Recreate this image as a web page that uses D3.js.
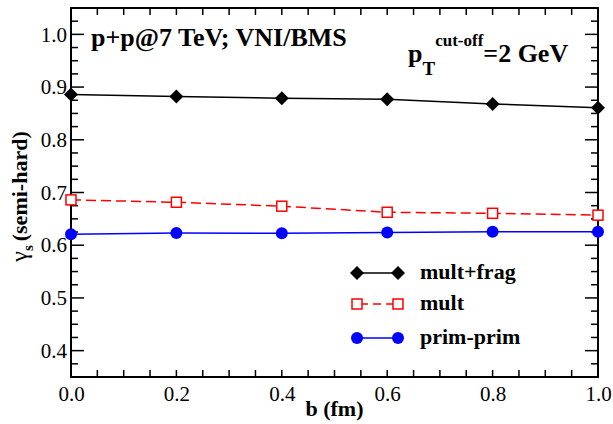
<!DOCTYPE html>
<html><head><meta charset="utf-8">
<script src="https://cdn.jsdelivr.net/npm/d3@7"></script>
<style>body{margin:0;background:#fff}svg{display:block}text{font-family:"Liberation Serif","Times New Roman",serif}</style>
</head><body>
<svg id="c" width="613" height="424"></svg>
<script>
const bValues = [0.0, 0.2, 0.4, 0.6, 0.8, 1.0];
const multFrag = [0.886, 0.882, 0.879, 0.877, 0.868, 0.861];
const mult = [0.686, 0.6815, 0.674, 0.6625, 0.6605, 0.657];
const primPrim = [0.621, 0.623, 0.6225, 0.624, 0.6257, 0.6257];
const xTicks = [0.0, 0.2, 0.4, 0.6, 0.8, 1.0];
const yTicks = [0.4, 0.5, 0.6, 0.7, 0.8, 0.9, 1.0];
const seriesNames = ["mult+frag", "mult", "prim-prim"];

const svg = d3.select("#c");
const L = 71, R = 598, T = 8, B = 377;
const x = d3.scaleLinear().domain([0, 1]).range([L, R]);
const y = d3.scaleLinear().domain([0.35, 1.05]).range([B, T]);

// minor & major ticks (inward, mirrored)
const g = svg.append("g");
const yMinor = d3.range(0.375, 1.05, 0.025).map(v => +v.toFixed(3));
yMinor.forEach(v => {
  const major = Math.abs(Math.round(v * 10) / 10 - v) < 1e-6;
  const len = major ? 13 : 7;
  g.append("line").attr("x1", L).attr("x2", L + len).attr("y1", y(v)).attr("y2", y(v)).attr("stroke", "#000").attr("stroke-width", 1.5);
  g.append("line").attr("x1", R).attr("x2", R - len).attr("y1", y(v)).attr("y2", y(v)).attr("stroke", "#000").attr("stroke-width", 1.5);
});
const xMinor = d3.range(0.05, 1.0, 0.05).map(v => +v.toFixed(3));
xMinor.forEach(v => {
  g.append("line").attr("x1", x(v)).attr("x2", x(v)).attr("y1", B).attr("y2", B - 7).attr("stroke", "#000").attr("stroke-width", 1.5);
  g.append("line").attr("x1", x(v)).attr("x2", x(v)).attr("y1", T).attr("y2", T + 7).attr("stroke", "#000").attr("stroke-width", 1.5);
});

// axes labels via d3 axes (no tick lines)
const xAxis = svg.append("g").attr("transform", `translate(0,${B})`)
  .call(d3.axisBottom(x).tickValues(xTicks).tickFormat(d3.format(".1f")).tickSize(0).tickPadding(9));
const yAxis = svg.append("g").attr("transform", `translate(${L},0)`)
  .call(d3.axisLeft(y).tickValues(yTicks).tickFormat(d3.format(".1f")).tickSize(0).tickPadding(4));
[xAxis, yAxis].forEach(a => {
  a.select(".domain").remove();
  a.selectAll("text").attr("font-family", "Liberation Serif, serif").attr("font-size", 21).attr("fill", "#000");
});

// frame
svg.append("rect").attr("x", L).attr("y", T).attr("width", R - L).attr("height", B - T)
  .attr("fill", "none").attr("stroke", "#000").attr("stroke-width", 2);

// axis titles
svg.append("text").attr("x", (L + R) / 2).attr("y", 416).attr("text-anchor", "middle")
  .attr("font-weight", "bold").attr("font-size", 22).text("b (fm)");
const yt = svg.append("text").attr("transform", `translate(27,${(T + B) / 2 + 4}) rotate(-90)`)
  .attr("text-anchor", "middle").attr("font-weight", "bold").attr("font-size", 22);
yt.append("tspan").attr("font-weight", "normal").attr("font-size", 24).text("γ");
yt.append("tspan").attr("font-size", 15).attr("dy", 6).text("s");
yt.append("tspan").attr("dy", -6).attr("dx", 4).text("(semi-hard)");

// series
const series = [
  { name: seriesNames[0], vals: multFrag, color: "#000", dash: null, marker: "diamond" },
  { name: seriesNames[1], vals: mult, color: "#ff0000", dash: "10,5", marker: "square" },
  { name: seriesNames[2], vals: primPrim, color: "#0000ff", dash: null, marker: "circle" }
];
function drawMarker(sel, m, color, cx, cy) {
  if (m === "diamond") {
    sel.append("path").attr("d", `M${cx},${cy - 7}L${cx + 7},${cy}L${cx},${cy + 7}L${cx - 7},${cy}Z`).attr("fill", color);
  } else if (m === "square") {
    sel.append("rect").attr("x", cx - 5).attr("y", cy - 5).attr("width", 10).attr("height", 10)
      .attr("fill", "#fff").attr("stroke", color).attr("stroke-width", 1.5);
  } else {
    sel.append("circle").attr("cx", cx).attr("cy", cy).attr("r", 6).attr("fill", color);
  }
}
const line = d3.line().x((d, i) => x(bValues[i])).y(d => y(d));
series.forEach(s => {
  svg.append("path").datum(s.vals).attr("d", line).attr("fill", "none").attr("stroke", s.color)
    .attr("stroke-width", 1.5).attr("stroke-dasharray", s.dash);
  const mg = svg.append("g");
  s.vals.forEach((v, i) => drawMarker(mg, s.marker, s.color, x(bValues[i]), y(v)));
});

// legend
const legY = [273, 304, 338];
series.forEach((s, i) => {
  const gy = legY[i];
  svg.append("line").attr("x1", 356).attr("x2", 399).attr("y1", gy).attr("y2", gy)
    .attr("stroke", s.color).attr("stroke-width", 1.5).attr("stroke-dasharray", s.dash ? "8,5" : null)
    .attr("stroke-dashoffset", s.dash ? -4 : 0);
  const lg = svg.append("g");
  drawMarker(lg, s.marker, s.color, 357, gy);
  drawMarker(lg, s.marker, s.color, 398, gy);
  svg.append("text").attr("x", 420).attr("y", gy + 6).attr("font-weight", "bold").attr("font-size", 22).text(s.name);
});

// annotations
svg.append("text").attr("x", 91).attr("y", 46).attr("font-weight", "bold").attr("font-size", 26).text("p+p@7 TeV; VNI/BMS");
const an = svg.append("text").attr("x", 408).attr("y", 62).attr("font-weight", "bold").attr("font-size", 26);
an.append("tspan").text("p");
an.append("tspan").attr("font-size", 19).attr("dy", 13).text("T");
an.append("tspan").attr("font-size", 17).attr("dy", -29).text("cut-off");
an.append("tspan").attr("dy", 16).text("=2 GeV");
</script>
</body></html>
